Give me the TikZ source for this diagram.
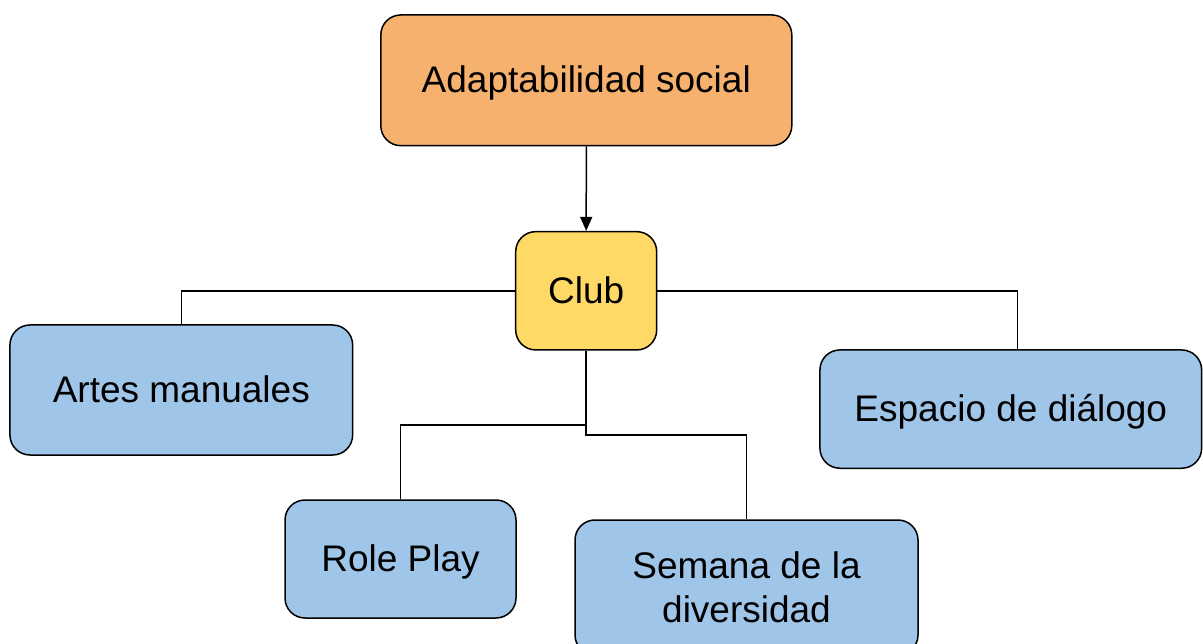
\documentclass[tikz,border=0pt]{standalone}
\usepackage{fontspec}
\setmainfont{Liberation Sans}
\usetikzlibrary{arrows.meta}
\definecolor{orangebox}{HTML}{F5B16D}
\definecolor{yellowbox}{HTML}{FFD966}
\definecolor{bluebox}{HTML}{9FC5E8}
\tikzset{
  box/.style={draw=black, line width=1.5pt, rounded corners=20pt, inner sep=0pt,
    align=center, text height=27pt, text depth=2pt, font=\fontsize{37}{44}\selectfont},
  conn/.style={draw=black, line width=1.5pt}
}
\begin{document}
\begin{tikzpicture}[x=1pt,y=-1pt]
\useasboundingbox (0,0) rectangle (1203,644);
\clip (0,0) rectangle (1203,644);
\node[box, fill=orangebox, minimum width=411pt, minimum height=130.7pt] (top) at (586.3,80.3) {Adaptabilidad social};
\node[box, fill=yellowbox, minimum width=141pt, minimum height=118.3pt] (club) at (586.2,290.8) {Club};
\node[box, fill=bluebox, minimum width=342.7pt, minimum height=130pt] (artes) at (181.3,390) {Artes manuales};
\node[box, fill=bluebox, minimum width=381.7pt, minimum height=118.3pt] (espacio) at (1010.8,409.1) {Espacio de diálogo};
\node[box, fill=bluebox, minimum width=231pt, minimum height=118pt] (role) at (400.5,559) {Role Play};
\node[box, fill=bluebox, minimum width=343pt, minimum height=135pt, text height=, text depth=] (semana) at (746.5,587.5) {Semana de la\\diversidad};
\coordinate (espin) at (1017.3,350);
\draw[conn, -{Triangle[width=12pt,length=14pt]}] (top.south) -- (club.north);
\draw[conn] (club.west) -| (artes.north);
\draw[conn] (club.east) -| (espin);
\draw[conn] (club.south) -- ++(0,74.5) -| (role.north);
\draw[conn] (club.south) -- ++(0,84.5) -| (semana.north);
\end{tikzpicture}
\end{document}
